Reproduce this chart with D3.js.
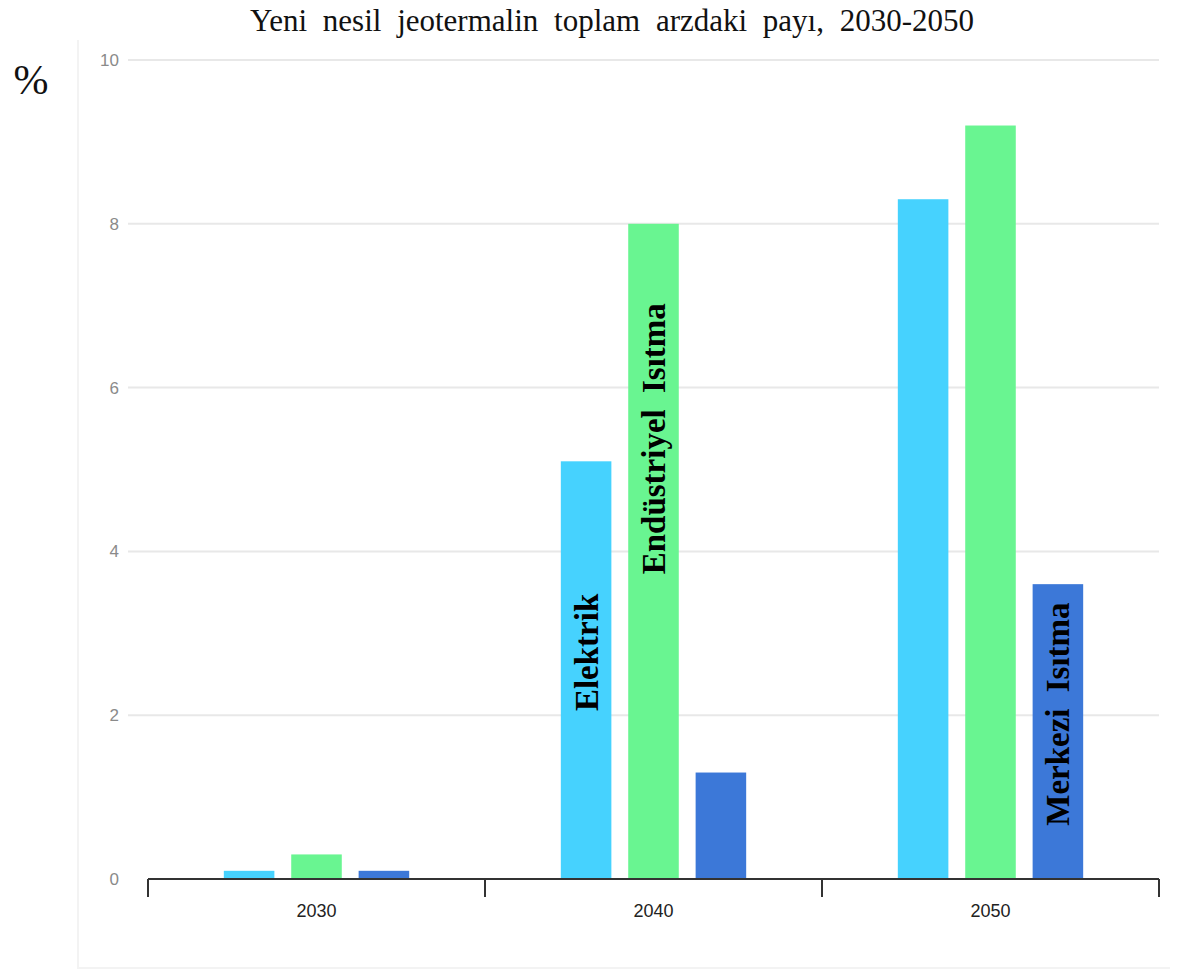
<!DOCTYPE html>
<html>
<head>
<meta charset="utf-8">
<script src="https://cdnjs.cloudflare.com/ajax/libs/d3/7.8.5/d3.min.js"></script>
<style>
  body { margin: 0; background: #fff; }
  svg { display: block; }
</style>
</head>
<body>
<div id="chart"></div>
<script>
// chart data
const years = ["2030", "2040", "2050"];
const seriesNames = ["Elektrik", "Endüstriyel Isıtma", "Merkezi Isıtma"];
const elektrik = [0.1, 5.1, 8.3];
const endustriyel = [0.3, 8.0, 9.2];
const merkezi = [0.1, 1.3, 3.6];
const yTicks = [0, 2, 4, 6, 8, 10];

// labels written inside bars: year, series index, start value
const barLabels = [
    { year: "2040", s: 0, text: "Elektrik", at: 2.05 },
    { year: "2040", s: 1, text: "Endüstriyel Isıtma", at: 3.72 },
    { year: "2050", s: 2, text: "Merkezi Isıtma", at: 0.65 }
];

const colors = ["#46d2fe", "#69f591", "#3c78d8"];
const width = 1184, height = 972;
const margin = { top: 60, right: 25, bottom: 93, left: 148 };

const svg = d3.select("#chart").append("svg")
    .attr("width", width)
    .attr("height", height);

// faint frame
svg.append("path")
    .attr("d", "M78,40 V968 H1170")
    .attr("fill", "none")
    .attr("stroke", "#f3f3f3")
    .attr("stroke-width", 2);

const x = d3.scaleBand()
    .domain(years)
    .range([margin.left, width - margin.right]);

const xInner = d3.scaleBand()
    .domain(d3.range(seriesNames.length))
    .range([x.bandwidth() * 0.225, x.bandwidth() * 0.775])
    .paddingInner(0.25);

const y = d3.scaleLinear()
    .domain([0, 10])
    .range([height - margin.bottom, margin.top]);

// grid
svg.append("g")
    .selectAll("line")
    .data(yTicks.filter(d => d > 0))
    .enter().append("line")
    .attr("x1", 128)
    .attr("x2", width - margin.right)
    .attr("y1", d => y(d))
    .attr("y2", d => y(d))
    .attr("stroke", "#e8e8e8")
    .attr("stroke-width", 2);

// y tick labels
svg.append("g")
    .selectAll("text")
    .data(yTicks)
    .enter().append("text")
    .attr("x", 119)
    .attr("y", d => y(d))
    .attr("dy", "0.35em")
    .attr("text-anchor", "end")
    .attr("fill", "#8a8a8a")
    .style("font-family", "Liberation Sans, Arial, sans-serif")
    .style("font-size", "17px")
    .text(d => d);

// bars
const rows = years.map((yr, i) => ({ year: yr, values: [elektrik[i], endustriyel[i], merkezi[i]] }));

const groups = svg.append("g")
    .selectAll("g")
    .data(rows)
    .enter().append("g")
    .attr("transform", d => `translate(${x(d.year)},0)`);

groups.selectAll("rect")
    .data(d => d.values.map((v, s) => ({ v, s })))
    .enter().append("rect")
    .attr("x", d => xInner(d.s))
    .attr("width", xInner.bandwidth())
    .attr("y", d => y(d.v))
    .attr("height", d => y(0) - y(d.v))
    .attr("fill", d => colors[d.s]);

// x axis with ticks at band edges
const xAxisG = svg.append("g")
    .attr("transform", `translate(0,${y(0)})`);

xAxisG.append("line")
    .attr("x1", margin.left)
    .attr("x2", width - margin.right)
    .attr("stroke", "#333")
    .attr("stroke-width", 2);

const edges = years.map(d => x(d)).concat([x(years[years.length - 1]) + x.bandwidth()]);
xAxisG.selectAll(".tick")
    .data(edges)
    .enter().append("line")
    .attr("class", "tick")
    .attr("x1", d => d).attr("x2", d => d)
    .attr("y1", 0).attr("y2", 18)
    .attr("stroke", "#333")
    .attr("stroke-width", 2);

xAxisG.selectAll("text")
    .data(years)
    .enter().append("text")
    .attr("x", d => x(d) + x.bandwidth() / 2)
    .attr("y", 38)
    .attr("text-anchor", "middle")
    .attr("fill", "#222")
    .style("font-family", "Liberation Sans, Arial, sans-serif")
    .style("font-size", "18px")
    .text(d => d);

// labels inside bars
svg.append("g")
    .selectAll("text")
    .data(barLabels)
    .enter().append("text")
    .attr("transform", d => {
        const cx = x(d.year) + xInner(d.s) + xInner.bandwidth() / 2;
        return `translate(${cx},${y(d.at)}) rotate(-90)`;
    })
    .attr("dy", "0.35em")
    .attr("text-anchor", "start")
    .attr("fill", "#000")
    .style("font-family", "Liberation Serif, Times New Roman, serif")
    .style("font-weight", "bold")
    .style("font-size", "33px")
    .style("word-spacing", "8px")
    .text(d => d.text);

// title
svg.append("text")
    .attr("x", 612)
    .attr("y", 31)
    .attr("text-anchor", "middle")
    .attr("fill", "#111")
    .style("font-family", "Liberation Serif, Times New Roman, serif")
    .style("font-size", "31px")
    .style("word-spacing", "8px")
    .text("Yeni nesil jeotermalin toplam arzdaki payı, 2030-2050");

// unit label
svg.append("text")
    .attr("x", 31)
    .attr("y", 94)
    .attr("text-anchor", "middle")
    .attr("fill", "#111")
    .style("font-family", "Liberation Serif, Times New Roman, serif")
    .style("font-size", "42px")
    .text("%");
</script>
</body>
</html>
